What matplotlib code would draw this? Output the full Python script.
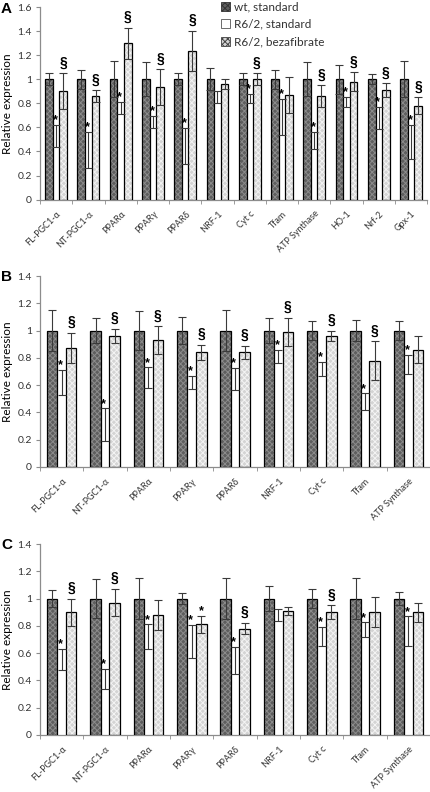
import matplotlib
matplotlib.use("Agg")
import matplotlib.pyplot as plt
import numpy as np
from matplotlib.patches import Patch

# ---------------- data ----------------
cats_A = ["FL-PGC1-α", "NT-PGC1-α", "PPARα", "PPARγ", "PPARδ", "NRF-1", "Cyt c",
          "Tfam", "ATP Synthase", "HO-1", "Nrf-2", "Gpx-1"]
cats_BC = ["FL-PGC1-α", "NT-PGC1-α", "PPARα", "PPARγ", "PPARδ", "NRF-1", "Cyt c",
           "Tfam", "ATP Synthase"]
series_names = ["wt, standard", "R6/2, standard", "R6/2, bezafibrate"]

# Panel A
A_wt = [1, 1, 1, 1, 1, 1, 1, 1, 1, 1, 1, 1]
A_wt_err = [0.05, 0.08, 0.15, 0.14, 0.05, 0.09, 0.05, 0.08, 0.14, 0.12, 0.04, 0.15]
A_std = [0.53, 0.41, 0.76, 0.645, 0.445, 0.85, 0.84, 0.69, 0.49, 0.81, 0.68, 0.48]
A_std_err = [0.09, 0.15, 0.05, 0.05, 0.15, 0.05, 0.04, 0.15, 0.07, 0.04, 0.09, 0.14]
A_bez = [0.90, 0.86, 1.30, 0.935, 1.235, 0.96, 1.00, 0.87, 0.86, 0.98, 0.91, 0.78]
A_bez_err = [0.15, 0.05, 0.13, 0.15, 0.17, 0.04, 0.05, 0.15, 0.09, 0.08, 0.06, 0.07]
A_std_mark = ["*", "*", "*", "*", "*", "", "*", "*", "*", "*", "*", "*"]
A_bez_mark = ["§", "§", "§", "§", "§", "", "§", "", "§", "§", "§", "§"]

# Panel B
B_wt = [1, 1, 1, 1, 1, 1, 1, 1, 1]
B_wt_err = [0.15, 0.09, 0.14, 0.10, 0.15, 0.09, 0.07, 0.08, 0.07]
B_std = [0.62, 0.31, 0.655, 0.62, 0.645, 0.81, 0.72, 0.48, 0.75]
B_std_err = [0.09, 0.12, 0.075, 0.05, 0.08, 0.05, 0.05, 0.06, 0.07]
B_bez = [0.87, 0.96, 0.93, 0.84, 0.84, 0.99, 0.96, 0.78, 0.86]
B_bez_err = [0.11, 0.05, 0.10, 0.055, 0.045, 0.10, 0.04, 0.14, 0.10]
B_std_mark = ["*", "*", "*", "*", "*", "*", "*", "*", "*"]
B_bez_mark = ["§", "§", "§", "§", "§", "§", "§", "§", ""]

# Panel C
C_wt = [1, 1, 1, 1, 1, 1, 1, 1, 1]
C_wt_err = [0.065, 0.14, 0.15, 0.04, 0.15, 0.09, 0.07, 0.15, 0.05]
C_std = [0.555, 0.41, 0.72, 0.685, 0.545, 0.88, 0.72, 0.77, 0.76]
C_std_err = [0.075, 0.075, 0.09, 0.12, 0.10, 0.045, 0.07, 0.055, 0.11]
C_bez = [0.90, 0.97, 0.88, 0.81, 0.78, 0.91, 0.90, 0.90, 0.90]
C_bez_err = [0.10, 0.10, 0.11, 0.065, 0.04, 0.03, 0.05, 0.11, 0.07]
C_std_mark = ["*", "*", "*", "*", "*", "", "*", "*", "*"]
C_bez_mark = ["§", "§", "", "*", "§", "", "§", "", ""]

# ---------------- style ----------------
plt.rcParams['font.family'] = ['Lato', 'DejaVu Sans']
plt.rcParams['hatch.linewidth'] = 0.7

W = 0.24
OFF = 0.22
ERRC = "#3a3a3a"
AXC = "#8c8c8c"
TXC = "#333333"
WT_FACE, WT_HATCH = "#5e5e5e", "#8c8c8c"
BZ_FACE, BZ_HATCH = "#d4d4d4", "#f4f4f4"

fig = plt.figure(figsize=(4.31, 7.92), dpi=100)


def draw_panel(ax, cats, wt, wte, st, ste, bz, bze, smark, bmark, ymax):
    x = np.arange(len(cats))
    ax.bar(x - OFF, wt, W, color=WT_FACE, hatch="xxxxxx", edgecolor=WT_HATCH,
           linewidth=0, zorder=2)
    ax.bar(x - OFF, wt, W, fill=False, edgecolor="black", linewidth=0.9, zorder=3)
    ax.bar(x, st, W, color="white", edgecolor="white", linewidth=0, zorder=1.5)
    ax.bar(x + OFF, bz, W, color=BZ_FACE, hatch="xxxxxx", edgecolor=BZ_HATCH,
           linewidth=0, zorder=2)
    ax.bar(x + OFF, bz, W, fill=False, edgecolor="black", linewidth=0.9, zorder=3)

    ekw = dict(fmt="none", ecolor=ERRC, elinewidth=0.8, capsize=2.6, capthick=0.8, zorder=4)
    ax.errorbar(x - OFF, wt, yerr=wte, **ekw)
    ax.errorbar(x, st, yerr=ste, **ekw)
    ax.errorbar(x + OFF, bz, yerr=bze, **ekw)

    for i in range(len(cats)):
        if smark[i]:
            ax.text(x[i] - 0.03, st[i] + ste[i] - 0.01, smark[i], ha="center", va="bottom",
                    fontsize=9, fontweight="bold", color="black", zorder=5,
                    family=["Liberation Sans", "DejaVu Sans"])
        if bmark[i]:
            if bmark[i] == "§":
                ax.text(x[i] + OFF, bz[i] + bze[i] + 0.03, bmark[i], ha="center", va="bottom",
                        fontsize=10, fontweight="bold", color="black", zorder=5,
                        family=["Liberation Sans", "DejaVu Sans"])
            else:
                ax.text(x[i] + OFF, bz[i] + bze[i] - 0.01, bmark[i], ha="center", va="bottom",
                        fontsize=9, fontweight="bold", color="black", zorder=5,
                        family=["Liberation Sans", "DejaVu Sans"])

    ticks = np.round(np.arange(0, ymax + 0.001, 0.2), 1)
    ax.set_xlim(-0.5, len(cats) - 0.5)
    ax.set_ylim(0, ymax)
    ax.set_yticks(ticks)
    ax.set_yticklabels([("%g" % v) for v in ticks])
    ax.set_xticks(x)
    ax.set_xticklabels(cats, rotation=45, ha="right", rotation_mode="anchor",
                       fontsize=6.5, color=TXC)
    ax.set_xticks(np.arange(-0.5, len(cats)), minor=True)
    ax.tick_params(axis="x", which="major", length=0, pad=7)
    ax.tick_params(axis="x", which="minor", length=3, color=AXC, direction="out")
    ax.tick_params(axis="y", length=3, color=AXC, labelsize=7.5, labelcolor=TXC, pad=3)
    for s in ["top", "right"]:
        ax.spines[s].set_visible(False)
    for s in ["left", "bottom"]:
        ax.spines[s].set_color(AXC)
        ax.spines[s].set_linewidth(0.9)
    ax.set_ylabel("Relative expression", fontsize=8.5, color="black", labelpad=3)


axA = fig.add_axes([0.093, 0.748, 0.898, 0.243])
axB = fig.add_axes([0.093, 0.4104, 0.905, 0.2411])
axC = fig.add_axes([0.093, 0.072, 0.905, 0.2411])

draw_panel(axA, cats_A, A_wt, A_wt_err, A_std, A_std_err, A_bez, A_bez_err,
           A_std_mark, A_bez_mark, 1.6)
draw_panel(axB, cats_BC, B_wt, B_wt_err, B_std, B_std_err, B_bez, B_bez_err,
           B_std_mark, B_bez_mark, 1.4)
draw_panel(axC, cats_BC, C_wt, C_wt_err, C_std, C_std_err, C_bez, C_bez_err,
           C_std_mark, C_bez_mark, 1.4)

for letter, ypx in [("A", 9), ("B", 277), ("C", 545)]:
    fig.text(1 / 431, 1 - ypx / 792, letter, fontsize=11, fontweight="bold",
             ha="left", va="center", family=["Liberation Sans", "DejaVu Sans"])

handles = [
    Patch(facecolor=WT_FACE, hatch="xxxxxx", edgecolor="#333333", linewidth=0.6),
    Patch(facecolor="white", edgecolor="#555555", linewidth=0.6),
    Patch(facecolor=BZ_FACE, hatch="xxxxxx", edgecolor="#444444", linewidth=0.6),
]
leg = axA.legend(handles, series_names, loc="upper left", bbox_to_anchor=(0.455, 1.055),
                 frameon=False, fontsize=8.5, handlelength=0.8, handleheight=0.8,
                 handletextpad=0.35, labelspacing=0.55, borderaxespad=0)
for t in leg.get_texts():
    t.set_color(TXC)

fig.savefig("out.png", dpi=100)
